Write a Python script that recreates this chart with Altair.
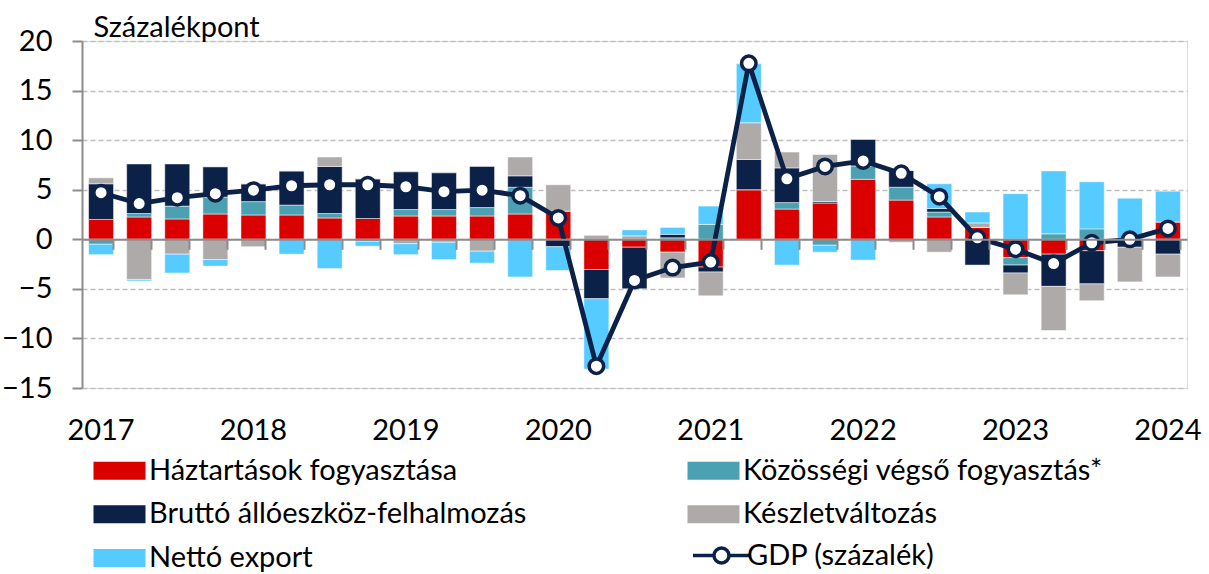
import altair as alt
import pandas as pd

quarters = [
    "2017 Q1", "2017 Q2", "2017 Q3", "2017 Q4",
    "2018 Q1", "2018 Q2", "2018 Q3", "2018 Q4",
    "2019 Q1", "2019 Q2", "2019 Q3", "2019 Q4",
    "2020 Q1", "2020 Q2", "2020 Q3", "2020 Q4",
    "2021 Q1", "2021 Q2", "2021 Q3", "2021 Q4",
    "2022 Q1", "2022 Q2", "2022 Q3", "2022 Q4",
    "2023 Q1", "2023 Q2", "2023 Q3", "2023 Q4",
    "2024 Q1",
]

series_names = [
    "Háztartások fogyasztása",
    "Közösségi végső fogyasztás*",
    "Bruttó állóeszköz-felhalmozás",
    "Készletváltozás",
    "Nettó export",
]
gdp_name = "GDP (százalék)"

household = [2.0, 2.25, 2.05, 2.55, 2.45, 2.45, 2.15, 2.1, 2.35, 2.35, 2.35, 2.55, 2.85, -3.05,
             -0.8, -1.3, -2.8, 5.0, 3.05, 3.65, 6.05, 3.95, 2.25, 1.2, -1.85, -1.5, -1.15, 0.0, 1.75]
government = [-0.5, 0.35, 1.3, 1.7, 1.35, 1.0, 0.45, -0.2, 0.65, 0.65, 0.85, 2.7, 0.0, 0.0,
              0.0, 0.15, 1.5, 0.0, 0.65, -0.6, 1.35, 1.3, 0.5, 0.0, -0.75, 0.55, 1.05, 0.0, 0.0]
investment = [3.6, 5.0, 4.25, 3.05, 1.8, 3.45, 4.75, 4.0, 3.8, 3.7, 4.15, 1.15, -0.75, -2.95,
              -4.2, 0.35, -0.5, 3.05, 3.5, 0.15, 2.7, 1.7, 0.35, -2.6, -0.8, -3.25, -3.35, -0.8, -1.5]
inventories = [0.6, -4.05, -1.5, -2.05, -0.75, 0.0, 0.95, 0.0, -0.45, -0.3, -1.2, 1.9, 2.65, 0.4,
               0.35, -2.6, -2.4, 3.7, 1.6, 4.75, 0.0, -0.3, -1.3, 0.45, -2.2, -4.45, -1.7, -3.5, -2.3]
net_export = [-1.05, -0.15, -1.9, -0.65, 0.0, -1.5, -2.95, -0.5, -1.1, -1.75, -1.2, -3.8, -2.4, -7.1,
              0.6, 0.7, 1.85, 5.95, -2.6, -0.7, -2.1, 0.0, 2.5, 1.1, 4.6, 6.35, 4.75, 4.15, 3.1]
gdp = [4.7, 3.6, 4.2, 4.6, 4.95, 5.4, 5.5, 5.5, 5.3, 4.8, 4.95, 4.4, 2.15, -12.8,
       -4.15, -2.85, -2.3, 17.75, 6.1, 7.35, 7.9, 6.65, 4.3, 0.15, -1.0, -2.45, -0.35, 0.0, 1.1]

colors = ["#da0000", "#4ba1b1", "#0c2148", "#aeaaaa", "#55cbff"]
# legend is laid out column by column: left column first, then right column
legend_order = [0, 2, 4, 1, 3]
NAVY = "#0c2148"
AXIS_GRAY = "#8c8c8c"
FONT = "Lato"
FS = 29

rows = []
for idx, (name, vals) in enumerate(zip(series_names,
                                       [household, government, investment, inventories, net_export])):
    for q, v in zip(quarters, vals):
        rows.append({"quarter": q, "series": name, "value": v, "idx": idx})
bars_df = pd.DataFrame(rows)
gdp_df = pd.DataFrame({"quarter": quarters, "value": gdp, "lbl": gdp_name})

x_enc = alt.X(
    "quarter:N", sort=quarters,
    scale=alt.Scale(paddingInner=0.344, paddingOuter=0.172),
    axis=alt.Axis(
        title=None, orient="bottom", offset=-148.7, bandPosition=1, labelOffset=0,
        labelExpr="indexof(datum.label, 'Q1') >= 0 ? slice(datum.label, 0, 4) : ''",
        labelAngle=0, labelBaseline="alphabetic", labelPadding=190, labelOverlap=False,
        tickSize=10, tickWidth=2, tickColor=AXIS_GRAY, domainColor=AXIS_GRAY, domainWidth=2,
        labelFont=FONT, labelFontSize=FS, labelColor="black", grid=False, zindex=1,
    ),
)

y_axis = alt.Axis(
    values=[-15, -10, -5, 0, 5, 10, 15, 20], title="Százalékpont", titleAngle=0,
    titleAlign="left", titleBaseline="alphabetic", titleX=11, titleY=-5,
    titleFont=FONT, titleFontSize=FS, titleFontWeight="normal", titleColor="black",
    labelFont=FONT, labelFontSize=FS, labelColor="black", labelPadding=20,
    tickSize=10, tickWidth=2, tickColor=AXIS_GRAY, domainColor=AXIS_GRAY, domainWidth=2,
    grid=True, gridColor="#bfbfbf", gridDash=[5, 3], gridWidth=1.5,
)
y_scale = alt.Scale(domain=[-15, 20], nice=False, zero=False)

RECT = "M-2.6,-0.9H2.6V0.9H-2.6Z"
GDP_SYM = ("M-2.85,0H-0.75M0.75,0H2.85M-0.75,0A0.75,0.75 0 1,1 0.75,0"
           "A0.75,0.75 0 1,1 -0.75,0Z")

bars = alt.Chart(bars_df).mark_bar(stroke="white", strokeWidth=0.5).encode(
    x=x_enc,
    y=alt.Y("value:Q", stack="zero", scale=y_scale, axis=y_axis),
    color=alt.Color(
        "series:N",
        scale=alt.Scale(domain=[series_names[i] for i in legend_order],
                        range=[colors[i] for i in legend_order]),
        legend=alt.Legend(
            orient="none", legendX=23, legendY=415, columns=2, title=None,
            symbolType=RECT, symbolSize=400, symbolStrokeWidth=0, symbolOpacity=1,
            labelFont=FONT, labelFontSize=FS, labelColor="black", labelOffset=15,
            labelLimit=0, columnPadding=160, rowPadding=13.8, padding=0,
        ),
    ),
    order=alt.Order("idx:Q", sort="ascending"),
)

line = alt.Chart(gdp_df).mark_line(strokeWidth=4.8).encode(
    x=x_enc,
    y=alt.Y("value:Q", scale=y_scale, axis=y_axis),
    stroke=alt.Stroke(
        "lbl:N", scale=alt.Scale(domain=[gdp_name], range=[NAVY]),
        legend=alt.Legend(
            orient="none", legendX=625, legendY=500, title=None,
            symbolType=GDP_SYM, symbolSize=400, symbolStrokeWidth=3.5,
            symbolFillColor="white", symbolOpacity=1,
            labelFont=FONT, labelFontSize=FS, labelColor="black", labelOffset=11,
            labelLimit=0, padding=0,
        ),
    ),
)

points = alt.Chart(gdp_df).mark_point(
    shape="circle", filled=True, fill="white", size=210, strokeWidth=3.5, opacity=1
).encode(
    x=x_enc,
    y=alt.Y("value:Q", scale=y_scale, axis=y_axis),
    stroke=alt.Stroke("lbl:N", scale=alt.Scale(domain=[gdp_name], range=[NAVY])),
)

chart = alt.layer(bars, line, points).properties(
    width=1105, height=347,
    autosize=alt.AutoSizeParams(type="none"),
    padding={"left": 82, "top": 41, "right": 22, "bottom": 186},
).configure_view(stroke=None).configure(background="white")

chart.save("out.html", embed_options={"renderer": "svg", "actions": False})
